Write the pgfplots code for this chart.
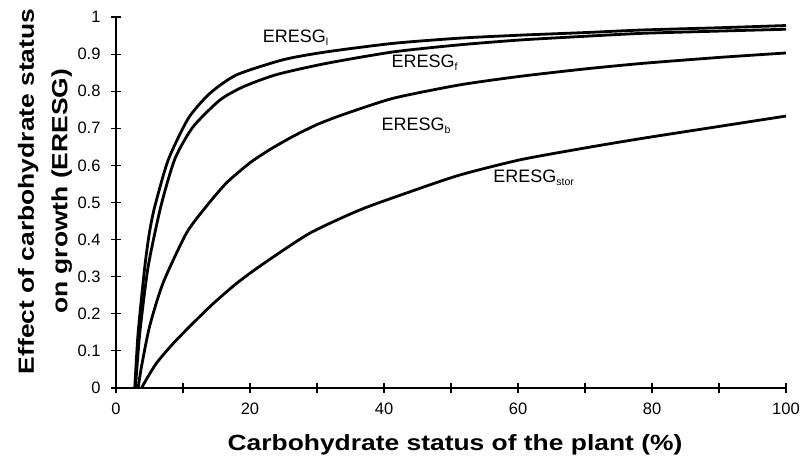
\documentclass[border=0pt]{standalone}
\usepackage{fontspec}
\setmainfont{Liberation Sans}
\usepackage{graphicx}
\usepackage{pgfplots}
\pgfplotsset{compat=1.18}
\newcommand{\sub}[1]{\raisebox{-3pt}{\fontsize{10.5}{10.5}\selectfont #1}}
\begin{document}
\begin{tikzpicture}
\begin{axis}[
  scale only axis,
  width=670pt, height=371pt,
  xmin=0, xmax=100, ymin=0, ymax=1,
  axis lines=left,
  axis line style={-, line width=1.6pt},
  xtick={0,20,40,60,80,100},
  minor xtick={10,30,50,70,90},
  ytick={0,0.1,0.2,0.3,0.4,0.5,0.6,0.7,0.8,0.9,1},
  yticklabels={0,0.1,0.2,0.3,0.4,0.5,0.6,0.7,0.8,0.9,1},
  xticklabels={0,20,40,60,80,100},
  tick align=center,
  tickwidth=10pt, subtickwidth=10pt,
  major tick length=10pt, minor tick length=10pt,
  xtick style={draw=black, line width=1.1pt},
  ytick style={draw=black, line width=1.1pt},
  minor tick style={draw=black, line width=1.1pt},
  /pgf/number format/assume math mode=true,
  ticklabel style={font=\fontsize{16.5}{18}\selectfont},
  xticklabel style={yshift=-6pt},
  yticklabel style={xshift=-7pt},
  clip=false,
  xlabel={\scalebox{1.2}[1]{\fontsize{22}{26}\selectfont\bfseries Carbohydrate status of the plant (\%)}},
  xlabel style={at={(axis description cs:0.506,0)}, anchor=base, yshift=-63pt},
  ylabel={\scalebox{1.2}[1]{\fontsize{22}{26}\selectfont\bfseries Effect of carbohydrate status}\\[12pt]\scalebox{1.2}[1]{\fontsize{22}{26}\selectfont\bfseries on growth (ERESG)}},
  ylabel style={at={(axis description cs:-0.106,0.53)}, anchor=center, align=center},
]
% ERESG_l
\addplot[black, no markers, line width=2.8pt, line join=round, smooth, tension=0.4] coordinates {(2.8,0) (3.3,0.148) (4.3,0.327) (5.0,0.42) (5.8,0.49) (7.8,0.615) (10.8,0.727) (14.0,0.794) (18.0,0.844) (25,0.885) (31.4,0.906) (41.4,0.929) (51.3,0.943) (60.3,0.951) (70,0.958) (78.6,0.965) (90,0.971) (100,0.977)};
% ERESG_f
\addplot[black, no markers, line width=2.8pt, line join=round, smooth, tension=0.4] coordinates {(2.9,0) (3.55,0.148) (4.8,0.327) (6.7,0.49) (8.8,0.618) (11.5,0.704) (15.5,0.776) (19.0,0.812) (24,0.845) (31.4,0.875) (41.4,0.906) (51.3,0.925) (60.3,0.938) (70,0.948) (78.6,0.956) (90,0.962) (100,0.967)};
% ERESG_b
\addplot[black, no markers, line width=2.8pt, line join=round, smooth, tension=0.4] coordinates {(3.3,0) (3.8,0.057) (5.0,0.165) (7.0,0.282) (10.5,0.417) (13.5,0.49) (16.5,0.553) (20,0.607) (23,0.643) (26.4,0.678) (30,0.71) (33.9,0.737) (41.4,0.781) (51.3,0.817) (60.3,0.840) (70,0.860) (78.6,0.875) (90,0.891) (100,0.903)};
% ERESG_stor
\addplot[black, no markers, line width=2.8pt, line join=round, smooth, tension=0.4] coordinates {(3.8,0) (6,0.066) (9.0,0.129) (14.0,0.219) (18.0,0.282) (22,0.335) (28.9,0.417) (36.4,0.480) (43.9,0.529) (51.3,0.574) (60.3,0.615) (70,0.647) (78.6,0.673) (90,0.705) (100,0.733)};
\node[anchor=base west, font=\fontsize{18}{20}\selectfont, inner sep=0pt] at (axis cs:21.9,0.930) {ERESG\sub{l}};
\node[anchor=base west, font=\fontsize{18}{20}\selectfont, inner sep=0pt] at (axis cs:41.1,0.865) {ERESG\sub{f}};
\node[anchor=base west, font=\fontsize{18}{20}\selectfont, inner sep=0pt] at (axis cs:39.6,0.695) {ERESG\sub{b}};
\node[anchor=base west, font=\fontsize{18}{20}\selectfont, inner sep=0pt] at (axis cs:56.3,0.553) {ERESG\sub{stor}};
\end{axis}
\pgfresetboundingbox
\path ([shift={(-116pt,-79pt)}]current axis.south west) rectangle ([shift={(19pt,17pt)}]current axis.north east);
\end{tikzpicture}
\end{document}
